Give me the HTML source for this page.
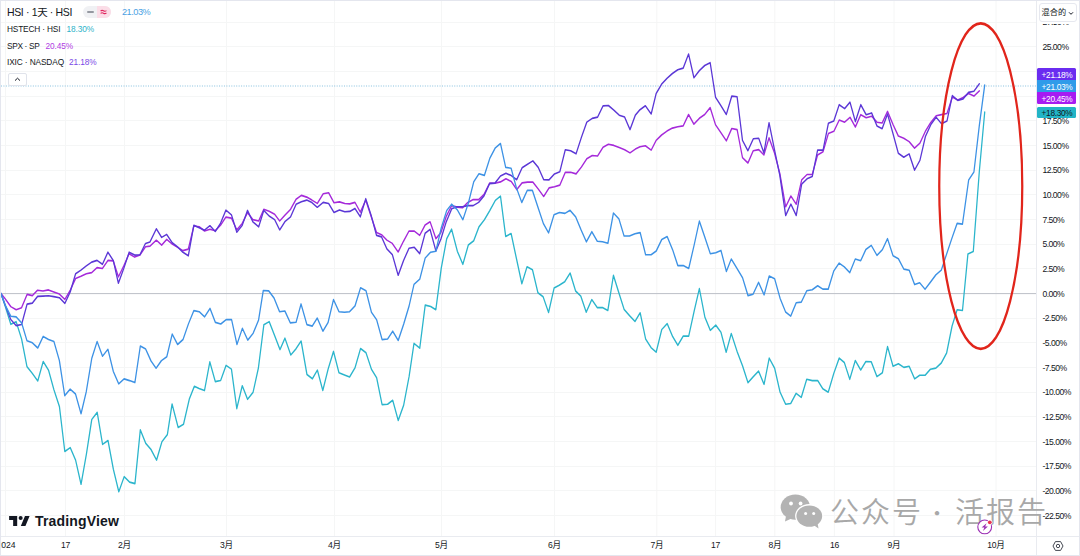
<!DOCTYPE html>
<html lang="zh"><head><meta charset="utf-8"><title>HSI chart</title>
<style>
html,body{margin:0;padding:0;background:#fff;}
body{width:1080px;height:556px;position:relative;overflow:hidden;font-family:"Liberation Sans","Noto Sans CJK SC",sans-serif;color:#131722;}
.chart{position:absolute;left:0;top:0;}
.frame{position:absolute;left:0;top:0;width:1078px;height:554px;border:1px solid #e4e6ee;pointer-events:none;}
.tl{position:absolute;top:540px;transform:translateX(-50%);font-size:8.6px;letter-spacing:-.3px;line-height:11px;white-space:nowrap;color:#131722;}
.yl{position:absolute;left:1042.4px;transform:translateY(-50%);font-size:8.6px;line-height:10px;white-space:nowrap;color:#131722;letter-spacing:-.5px;}
.pl{position:absolute;left:1037px;width:39px;height:12px;box-sizing:border-box;padding-top:.9px;padding-left:1px;border-radius:1.5px;color:#fff;font-size:8.3px;line-height:12px;text-align:center;letter-spacing:-.3px;font-weight:normal;}
.lg{position:absolute;left:7px;white-space:nowrap;color:#131722;letter-spacing:-.12px;}
.lg b{font-weight:normal;margin-left:5px;}
.wm{position:absolute;color:#a8a8a8;font-family:"Liberation Sans","Noto Sans CJK SC",sans-serif;font-weight:350;font-size:29px;letter-spacing:2px;line-height:31px;white-space:nowrap;}
</style></head><body>
<svg class="chart" width="1080" height="556" viewBox="0 0 1080 556">
<g stroke="#f5f6f6" stroke-width="1" shape-rendering="auto"><line x1="1" x2="1036" y1="515.5" y2="515.5"/><line x1="1" x2="1036" y1="490.5" y2="490.5"/><line x1="1" x2="1036" y1="466.5" y2="466.5"/><line x1="1" x2="1036" y1="441.5" y2="441.5"/><line x1="1" x2="1036" y1="416.5" y2="416.5"/><line x1="1" x2="1036" y1="392.5" y2="392.5"/><line x1="1" x2="1036" y1="367.5" y2="367.5"/><line x1="1" x2="1036" y1="342.5" y2="342.5"/><line x1="1" x2="1036" y1="318.5" y2="318.5"/><line x1="1" x2="1036" y1="268.5" y2="268.5"/><line x1="1" x2="1036" y1="244.5" y2="244.5"/><line x1="1" x2="1036" y1="219.5" y2="219.5"/><line x1="1" x2="1036" y1="194.5" y2="194.5"/><line x1="1" x2="1036" y1="170.5" y2="170.5"/><line x1="1" x2="1036" y1="145.5" y2="145.5"/><line x1="1" x2="1036" y1="120.5" y2="120.5"/><line x1="1" x2="1036" y1="96.5" y2="96.5"/><line x1="1" x2="1036" y1="71.5" y2="71.5"/><line x1="1" x2="1036" y1="46.5" y2="46.5"/><line x1="1" x2="1036" y1="22.5" y2="22.5"/><line y1="1" y2="536" x1="5.5" x2="5.5"/><line y1="1" y2="536" x1="65.5" x2="65.5"/><line y1="1" y2="536" x1="124.5" x2="124.5"/><line y1="1" y2="536" x1="226.5" x2="226.5"/><line y1="1" y2="536" x1="334.5" x2="334.5"/><line y1="1" y2="536" x1="441.5" x2="441.5"/><line y1="1" y2="536" x1="554.5" x2="554.5"/><line y1="1" y2="536" x1="656.8" x2="656.8"/><line y1="1" y2="536" x1="715.6" x2="715.6"/><line y1="1" y2="536" x1="774.8" x2="774.8"/><line y1="1" y2="536" x1="834.4" x2="834.4"/><line y1="1" y2="536" x1="894.0" x2="894.0"/><line y1="1" y2="536" x1="996.0" x2="996.0"/></g>
<line x1="1" x2="1036" y1="293.6" y2="293.6" stroke="#bcbfc7" stroke-width="1"/>
<line x1="1" x2="1036" y1="86" y2="86" stroke="#62aed6" stroke-width="1" stroke-dasharray="1 1.45" opacity=".75"/>
<g transform="scale(0.8 1)">
<path d="M1.3 293.6 L6.7 306.6 L13.5 324.3 L20.2 321.7 L27.0 339.0 L33.7 366.6 L40.5 373.5 L47.2 381.0 L54.0 361.6 L60.7 370.3 L67.4 389.7 L74.3 406.6 L81.0 451.5 L87.8 447.6 L94.5 460.1 L101.3 484.3 L108.0 454.1 L114.7 419.5 L121.5 412.4 L128.2 444.4 L135.0 440.5 L141.7 469.2 L148.5 491.8 L155.2 476.7 L162.0 482.1 L168.7 483.6 L175.4 429.9 L182.2 443.3 L188.9 449.7 L195.7 460.1 L202.4 441.8 L209.2 434.6 L215.1 404.0 L222.7 427.5 L229.4 424.3 L236.6 399.2 L242.9 386.3 L248.8 388.5 L255.6 390.6 L262.3 361.9 L269.1 381.6 L275.8 380.5 L282.6 365.4 L289.3 369.1 L296.0 408.6 L302.8 385.7 L309.5 399.3 L316.3 392.4 L323.0 368.0 L329.8 324.8 L336.5 321.6 L343.3 335.6 L350.0 349.6 L356.2 338.2 L363.5 355.0 L370.2 348.6 L376.4 341.0 L383.7 374.5 L390.5 378.8 L396.7 370.1 L403.5 390.4 L410.1 369.2 L416.9 351.4 L423.7 372.7 L430.6 375.0 L437.0 377.0 L443.8 367.8 L450.7 348.5 L457.5 352.8 L464.3 369.2 L470.8 377.8 L477.6 404.6 L484.5 404.3 L490.9 400.3 L497.8 420.4 L504.6 405.1 L511.4 376.4 L517.5 343.3 L524.7 348.2 L531.5 305.1 L538.4 306.5 L544.8 309.7 L551.6 268.0 L558.4 238.7 L564.5 229.2 L571.7 251.3 L578.6 264.3 L585.4 245.0 L592.2 240.7 L598.7 226.9 L605.5 219.7 L612.3 210.5 L619.2 200.4 L625.6 196.1 L632.1 236.4 L638.9 233.5 L645.4 258.0 L652.3 283.8 L658.8 266.8 L665.6 269.7 L672.4 292.7 L678.9 296.7 L685.7 312.5 L692.6 288.1 L699.0 285.2 L705.9 281.8 L712.7 273.1 L719.5 291.0 L726.0 296.1 L732.8 312.2 L739.7 299.6 L746.5 307.6 L753.0 307.6 L759.8 310.5 L766.8 275.4 L773.6 292.9 L780.1 309.3 L786.9 315.7 L793.7 321.4 L800.2 312.8 L807.0 338.9 L813.8 347.6 L820.2 352.2 L827.2 329.5 L834.0 323.7 L840.8 336.6 L847.3 345.3 L854.1 336.1 L860.9 336.1 L867.8 310.8 L874.2 288.6 L881.1 317.1 L887.9 330.3 L894.7 325.1 L901.2 332.3 L907.7 352.3 L914.1 333.5 L921.3 351.3 L928.2 365.9 L935.0 382.7 L941.4 376.9 L948.2 371.1 L955.1 384.4 L961.5 358.1 L968.3 368.3 L975.1 392.2 L982.0 404.2 L988.4 403.5 L995.2 393.3 L1001.6 397.4 L1008.4 379.3 L1015.3 380.6 L1022.1 380.6 L1028.5 388.8 L1035.3 392.2 L1042.2 373.5 L1049.0 358.1 L1055.4 362.5 L1062.2 379.3 L1069.1 360.5 L1075.9 370.0 L1082.3 361.5 L1089.1 361.8 L1096.2 376.6 L1103.0 372.8 L1109.4 346.6 L1116.3 366.3 L1123.0 363.8 L1129.8 367.4 L1136.5 366.3 L1143.3 378.9 L1149.6 375.3 L1156.3 375.3 L1163.1 369.2 L1169.8 368.1 L1176.6 363.0 L1183.3 353.0 L1190.1 326.0 L1196.4 309.8 L1203.1 310.5 L1209.9 254.0 L1216.6 251.5 L1224.1 172.0 L1230.9 112.0" fill="none" stroke="#2bb5cc" stroke-width="1.6" stroke-linejoin="round" stroke-linecap="round"/>
<path d="M1.3 293.6 L6.7 299.0 L13.5 306.6 L20.2 309.8 L27.0 307.7 L33.9 294.4 L40.4 295.6 L47.0 290.2 L53.7 291.0 L60.6 289.9 L67.3 291.9 L74.2 294.1 L81.1 299.4 L87.8 290.2 L94.5 278.5 L101.2 276.3 L107.9 273.8 L114.6 272.6 L121.3 267.6 L128.0 268.5 L134.9 260.4 L141.6 260.9 L148.0 276.8 L154.7 265.9 L161.4 253.7 L168.3 257.1 L175.0 255.1 L181.9 246.7 L187.5 246.1 L195.4 240.2 L202.1 245.2 L208.4 239.4 L215.3 244.1 L222.0 247.4 L228.7 250.6 L235.4 249.1 L242.3 226.0 L249.0 226.8 L255.7 231.0 L262.4 229.3 L269.1 230.7 L275.7 225.2 L282.4 217.1 L289.3 218.1 L296.0 229.9 L302.7 223.5 L309.4 212.6 L316.1 219.6 L323.4 221.0 L329.7 209.3 L336.4 211.3 L343.3 214.3 L349.6 221.0 L356.5 214.8 L363.2 209.3 L370.1 199.2 L376.7 195.4 L383.4 197.1 L389.9 200.1 L396.6 203.4 L404.0 193.7 L410.8 192.7 L417.5 202.8 L424.3 201.9 L431.0 203.5 L437.2 203.9 L443.7 202.4 L450.4 212.1 L457.2 200.2 L463.9 216.4 L470.7 232.6 L476.9 234.7 L483.6 240.1 L490.4 243.4 L497.7 252.0 L504.4 241.2 L511.2 231.1 L517.9 231.1 L524.6 235.4 L531.4 225.0 L537.6 221.8 L544.9 238.6 L551.1 232.6 L557.8 216.4 L564.6 205.6 L571.3 207.1 L578.1 207.8 L584.8 202.4 L591.5 199.6 L598.3 199.6 L605.0 194.4 L612.0 183.1 L618.7 183.3 L625.6 181.9 L632.4 178.8 L639.1 181.4 L645.9 189.6 L652.6 182.9 L659.4 182.1 L666.1 182.1 L672.8 189.0 L679.6 196.5 L686.3 187.9 L693.1 186.8 L699.8 185.1 L706.6 172.4 L713.3 172.2 L720.1 173.9 L726.8 167.0 L733.5 158.8 L740.3 155.5 L747.0 156.0 L753.8 147.3 L760.5 144.3 L767.3 145.4 L774.0 147.6 L780.8 149.7 L787.5 152.9 L794.2 149.1 L800.0 146.8 L806.7 145.8 L814.0 150.1 L820.2 140.4 L827.0 135.0 L833.7 131.1 L840.5 128.1 L847.2 126.8 L854.0 125.9 L860.7 114.5 L867.4 124.2 L874.2 118.3 L880.9 114.5 L887.7 107.6 L894.4 124.8 L901.2 132.8 L907.9 140.8 L914.7 128.5 L921.4 129.6 L928.1 157.6 L934.9 163.0 L941.6 150.7 L948.4 149.6 L954.9 155.0 L961.3 137.8 L968.1 152.9 L974.8 173.4 L982.1 206.8 L988.6 196.0 L995.3 204.2 L1002.1 179.9 L1008.8 174.5 L1015.3 174.5 L1022.0 155.0 L1028.8 151.8 L1035.5 133.5 L1042.3 131.3 L1049.0 120.1 L1055.8 122.2 L1062.5 117.3 L1069.2 127.0 L1076.0 114.7 L1082.7 117.7 L1089.5 116.2 L1096.2 122.2 L1102.7 123.0 L1109.4 111.4 L1116.2 124.3 L1122.9 136.0 L1129.7 138.2 L1136.4 141.6 L1143.2 148.1 L1149.9 143.1 L1156.7 131.3 L1163.4 122.6 L1170.2 115.7 L1176.9 114.6 L1183.7 113.5 L1190.4 97.1 L1197.2 99.9 L1203.9 97.4 L1210.7 93.5 L1217.4 96.1 L1224.2 90.9" fill="none" stroke="#a52ada" stroke-width="1.6" stroke-linejoin="round" stroke-linecap="round"/>
<path d="M1.3 293.6 L6.7 305.5 L13.5 319.5 L20.2 325.6 L27.0 324.5 L33.9 304.1 L40.4 303.1 L47.0 296.4 L53.7 296.1 L60.6 295.7 L67.3 296.6 L74.2 297.7 L81.1 303.3 L87.8 291.9 L94.5 273.8 L101.2 270.1 L107.9 265.9 L114.6 262.1 L121.3 260.4 L128.0 264.3 L134.9 252.2 L141.6 260.4 L148.0 283.2 L154.7 268.5 L161.4 252.2 L168.3 255.1 L175.0 254.7 L181.9 243.4 L187.5 241.9 L195.4 228.8 L202.1 237.4 L208.4 234.4 L215.3 242.7 L222.0 246.9 L228.7 252.3 L235.4 255.8 L242.3 225.2 L249.0 227.7 L255.7 230.2 L262.4 225.7 L269.1 231.5 L275.7 223.2 L282.4 210.1 L289.3 214.8 L296.0 232.2 L302.7 225.5 L309.4 210.4 L316.1 221.8 L323.4 226.8 L329.7 210.4 L336.4 216.0 L343.3 219.6 L349.6 229.9 L356.5 221.3 L363.2 216.8 L370.1 204.3 L376.7 201.7 L383.4 200.1 L389.9 202.6 L396.6 207.3 L404.0 202.4 L410.8 203.5 L417.5 212.5 L424.3 209.9 L431.0 211.7 L437.2 211.4 L443.7 208.4 L450.4 216.8 L457.2 198.7 L463.9 215.3 L470.7 235.4 L476.9 236.9 L483.6 248.8 L490.4 254.6 L497.7 275.3 L504.4 260.6 L511.2 248.3 L517.9 247.3 L524.6 253.7 L531.4 233.2 L537.6 229.4 L544.9 250.9 L551.1 239.1 L557.8 221.8 L564.6 208.8 L571.3 206.7 L578.1 206.7 L584.8 205.6 L591.5 205.6 L598.3 202.4 L605.0 195.9 L612.0 183.6 L618.7 183.1 L625.6 176.0 L632.4 173.2 L639.1 175.6 L645.9 179.7 L652.6 167.8 L659.4 164.2 L666.1 160.9 L672.8 167.4 L679.6 179.7 L686.3 179.9 L693.1 173.9 L699.8 171.7 L706.6 149.7 L713.3 150.8 L720.1 153.8 L726.8 137.2 L733.5 122.1 L740.3 118.4 L747.0 117.1 L753.8 105.9 L760.5 105.5 L767.3 110.2 L774.0 115.2 L780.8 117.1 L787.5 129.6 L794.2 115.2 L800.0 109.7 L806.7 105.8 L814.0 114.0 L820.2 93.5 L827.0 84.2 L833.7 78.4 L840.5 73.5 L847.2 69.8 L854.0 68.1 L860.7 54.0 L867.4 77.8 L874.2 70.6 L880.9 65.5 L887.7 62.7 L894.4 97.2 L901.2 105.8 L907.9 114.5 L914.7 96.1 L921.4 96.8 L928.1 140.4 L934.9 150.7 L941.6 138.8 L948.4 138.2 L954.9 152.9 L961.3 122.7 L968.1 149.6 L974.8 175.5 L982.1 215.5 L988.6 204.2 L995.3 215.5 L1002.1 184.2 L1008.8 178.8 L1015.3 176.6 L1022.0 150.1 L1028.8 150.1 L1035.5 123.3 L1042.3 120.9 L1049.0 104.7 L1055.8 108.6 L1062.5 102.2 L1069.2 121.6 L1076.0 104.7 L1082.7 114.7 L1089.5 112.9 L1096.2 125.9 L1102.7 128.7 L1109.4 114.0 L1116.2 133.4 L1122.9 153.3 L1129.7 157.2 L1136.4 153.9 L1143.2 170.1 L1149.9 160.4 L1156.7 136.7 L1163.4 124.8 L1170.2 117.2 L1176.9 123.7 L1183.7 121.1 L1190.4 95.6 L1197.2 100.4 L1203.9 98.9 L1210.7 92.4 L1217.4 91.3 L1224.2 83.8" fill="none" stroke="#5b37d6" stroke-width="1.6" stroke-linejoin="round" stroke-linecap="round"/>
<path d="M1.3 293.6 L6.7 305.5 L13.5 316.3 L20.2 316.9 L27.0 322.8 L33.7 340.7 L40.5 342.8 L47.2 348.0 L54.0 336.4 L60.7 339.4 L67.4 341.5 L74.2 360.5 L80.9 395.7 L87.7 389.2 L94.4 394.0 L101.3 413.7 L107.9 391.4 L114.7 358.4 L121.4 341.5 L128.1 356.2 L134.9 349.3 L141.6 371.3 L148.4 383.8 L155.1 378.9 L161.9 380.6 L168.6 382.6 L175.4 346.1 L182.1 349.1 L188.8 361.0 L195.1 368.2 L201.8 360.6 L208.5 356.8 L215.3 334.1 L222.0 344.5 L228.8 339.5 L235.5 324.0 L242.3 310.6 L249.0 311.7 L255.8 316.8 L262.5 308.4 L269.2 322.4 L276.0 324.0 L282.7 319.6 L289.5 319.6 L296.2 344.5 L303.0 328.3 L309.7 340.1 L316.5 333.2 L323.2 320.1 L329.1 290.5 L335.9 290.9 L342.6 298.1 L349.4 311.7 L356.1 311.0 L362.9 322.9 L370.1 322.2 L376.3 303.9 L383.6 324.6 L390.4 326.1 L396.6 318.1 L403.6 331.2 L410.1 322.6 L416.9 299.6 L423.7 311.7 L430.6 312.3 L437.0 311.7 L443.8 305.9 L450.7 287.8 L457.5 290.7 L464.3 312.3 L470.8 319.7 L477.6 339.6 L484.5 339.0 L490.9 331.2 L497.8 340.4 L504.6 324.1 L511.4 305.9 L517.5 284.4 L524.7 279.2 L531.5 258.0 L538.3 252.2 L544.8 251.3 L551.6 227.8 L558.4 210.5 L564.5 204.2 L571.7 209.9 L578.6 219.7 L585.4 203.3 L592.2 181.8 L598.7 173.7 L605.5 175.4 L612.3 158.2 L619.2 147.8 L625.6 143.5 L632.1 167.4 L638.9 168.2 L645.4 187.5 L652.2 202.5 L659.1 190.4 L665.5 190.4 L672.4 207.1 L679.2 223.5 L685.7 232.9 L692.5 214.8 L699.3 212.5 L706.2 213.4 L712.6 210.3 L719.6 216.9 L726.2 229.7 L733.0 241.8 L739.8 231.7 L746.6 241.2 L753.1 241.8 L759.9 243.2 L766.8 213.0 L773.6 218.8 L780.1 236.0 L786.9 236.0 L793.7 233.7 L800.2 232.6 L807.0 254.7 L813.9 254.7 L820.3 251.0 L827.2 239.5 L834.0 236.6 L840.8 249.8 L847.3 265.6 L854.1 265.6 L860.9 268.5 L867.8 244.6 L874.2 221.1 L881.1 237.4 L887.9 253.8 L894.7 252.7 L901.2 250.4 L908.0 271.4 L914.1 259.0 L921.3 268.6 L928.2 277.8 L935.0 295.6 L941.4 294.2 L948.2 282.3 L955.1 294.9 L961.5 276.1 L968.3 278.8 L975.1 298.3 L982.0 312.0 L988.4 316.1 L995.2 302.8 L1001.6 302.1 L1008.4 290.8 L1015.3 289.8 L1022.1 285.7 L1028.5 289.1 L1035.3 289.1 L1042.2 271.0 L1049.0 263.1 L1055.4 266.9 L1062.2 272.7 L1069.1 259.0 L1075.9 260.7 L1082.3 249.5 L1089.1 245.4 L1096.2 255.4 L1103.0 249.6 L1109.4 238.7 L1116.3 255.8 L1123.0 258.7 L1129.8 269.1 L1136.5 270.2 L1143.3 284.6 L1149.6 282.8 L1156.3 289.3 L1163.1 282.1 L1169.8 274.9 L1176.6 270.2 L1183.3 254.0 L1190.1 237.8 L1196.4 223.4 L1203.1 224.1 L1210.8 180.1 L1217.4 172.0 L1224.1 125.9 L1230.9 85.0" fill="none" stroke="#3d92e5" stroke-width="1.6" stroke-linejoin="round" stroke-linecap="round"/>
<ellipse cx="1225.94" cy="186.1" rx="51.88" ry="162.8" fill="none" stroke="#e1251b" stroke-width="2.8"/>
</g>
<line x1="1036.5" x2="1036.5" y1="0" y2="556" stroke="#e9ebf0"/>
<line x1="0" x2="1080" y1="536.5" y2="536.5" stroke="#e9ebf0"/>
</svg>
<div class="axis-t"><div style="position:absolute;left:1px;top:540px;width:24px;height:12px;overflow:hidden"><span class="tl" style="left:-4.4px;top:0;transform:none;letter-spacing:-.05px">2024</span></div><span class="tl" style="left:65.5px">17</span><span class="tl" style="left:124.5px">2月</span><span class="tl" style="left:226.5px">3月</span><span class="tl" style="left:334.5px">4月</span><span class="tl" style="left:441.5px">5月</span><span class="tl" style="left:554.5px">6月</span><span class="tl" style="left:656.8px">7月</span><span class="tl" style="left:715.6px">17</span><span class="tl" style="left:774.8px">8月</span><span class="tl" style="left:834.4px">16</span><span class="tl" style="left:894.0px">9月</span><span class="tl" style="left:996.0px">10月</span></div>
<div class="axis-y"><span class="yl" style="top:515.6px">-22.50%</span><span class="yl" style="top:491.0px">-20.00%</span><span class="yl" style="top:466.3px">-17.50%</span><span class="yl" style="top:441.6px">-15.00%</span><span class="yl" style="top:417.0px">-12.50%</span><span class="yl" style="top:392.3px">-10.00%</span><span class="yl" style="top:367.6px">-7.50%</span><span class="yl" style="top:342.9px">-5.00%</span><span class="yl" style="top:318.3px">-2.50%</span><span class="yl" style="top:293.6px">0.00%</span><span class="yl" style="top:268.9px">2.50%</span><span class="yl" style="top:244.3px">5.00%</span><span class="yl" style="top:219.6px">7.50%</span><span class="yl" style="top:194.9px">10.00%</span><span class="yl" style="top:170.2px">12.50%</span><span class="yl" style="top:145.6px">15.00%</span><span class="yl" style="top:120.9px">17.50%</span><span class="yl" style="top:96.2px">20.00%</span><span class="yl" style="top:71.6px">22.50%</span><span class="yl" style="top:46.9px">25.00%</span><span class="yl" style="top:22.2px">27.50%</span></div>
<!-- watermark -->
<svg style="position:absolute;left:778px;top:492px" width="48" height="38" viewBox="778 492 48 38">
 <g fill="#b3b3b3">
  <ellipse cx="795.4" cy="507.2" rx="14.7" ry="12.6"/>
  <path d="M786 516 L785 521.5 L791.5 518.5Z"/>
 </g>
 <ellipse cx="809.3" cy="516.1" rx="14.2" ry="12" fill="#fff"/>
 <g fill="#b3b3b3">
  <ellipse cx="809.3" cy="516.1" rx="12.9" ry="10.7"/>
  <path d="M813.5 525 L818.5 528.5 L817.5 523Z"/>
 </g>
 <g fill="#fff"><circle cx="791" cy="503.5" r="1.9"/><circle cx="800.6" cy="503.5" r="1.9"/><circle cx="805.6" cy="513.6" r="1.5"/><circle cx="813.7" cy="513.6" r="1.5"/></g>
</svg>
<div class="wm" style="left:830px;top:497.5px;">公众号</div>
<div class="wm" style="left:927px;top:496.5px;width:20px;text-align:center;letter-spacing:0;font-family:'Noto Sans CJK SC',sans-serif;font-weight:700;font-size:17px">·</div>
<div class="wm" style="left:955px;top:497.5px;">活报告</div>
<!-- price labels -->
<div class="pl" style="top:68px;background:#6a2cf0;border-radius:1.5px 1.5px 0 0">+21.18%</div>
<div class="pl" style="top:80px;background:#2f9be9;border-radius:0">+21.03%</div>
<div class="pl" style="top:92px;background:#a61bf2;border-radius:0 0 1.5px 1.5px">+20.45%</div>
<div class="pl" style="top:107px;height:11px;line-height:11px;background:#22b4c6;color:#131722">+18.30%</div>
<!-- dropdown -->
<div style="position:absolute;left:1038px;top:1px;width:40px;height:23px;background:#fff"></div>
<div style="position:absolute;left:1039px;top:3px;width:36px;height:16.5px;border:1px solid #e6e8ef;border-radius:3px;background:#fff;"></div>
<div style="position:absolute;left:1041.5px;top:6.8px;font-size:8.2px;line-height:12px;color:#131722;white-space:nowrap">混合的</div>
<svg style="position:absolute;left:1068.2px;top:10.6px" width="6" height="5" viewBox="0 0 6 5"><path d="M1 1.3 L3 3.3 L5 1.3" fill="none" stroke="#131722" stroke-width="1"/></svg>
<!-- legend -->
<div class="lg" style="top:5.4px;font-size:10.5px;line-height:14px;letter-spacing:-.36px;">HSI · 1天 · HSI</div>
<div style="position:absolute;left:83px;top:6px;width:27.5px;height:12px;border-radius:6px;overflow:hidden;background:#f0f1f4">
  <div style="position:absolute;left:13.5px;top:0;width:14px;height:12px;background:#fbdde7"></div>
  <div style="position:absolute;left:3.9px;top:4.7px;width:7px;height:2.3px;border-radius:1.2px;background:#9598a1"></div>
  <svg style="position:absolute;left:17px;top:3px" width="7" height="6" viewBox="0 0 7 6"><path d="M.6 2 Q2 .8 3.5 1.8 T6.4 1.6 M.6 4.4 Q2 3.2 3.5 4.2 T6.4 4" fill="none" stroke="#e0245e" stroke-width="1.1"/></svg>
</div>
<div class="lg" style="left:122px;top:5.4px;font-size:9.2px;line-height:14px;letter-spacing:-.5px;color:#4a9fe3">21.03%</div>
<div class="lg" style="top:23px;font-size:8.3px;line-height:12px;letter-spacing:-.17px">HSTECH · HSI<b style="color:#2db3c9;margin-left:6.3px;letter-spacing:-.12px">18.30%</b></div>
<div class="lg" style="top:39.5px;font-size:8.3px;line-height:12px;letter-spacing:-.33px">SPX · SP<b style="color:#b03be3;margin-left:6.2px;letter-spacing:-.12px">20.45%</b></div>
<div class="lg" style="top:56px;font-size:8.3px;line-height:12px;">IXIC · NASDAQ<b style="color:#7a48e6">21.18%</b></div>
<div style="position:absolute;left:7.5px;top:72.5px;width:19px;height:13.5px;border:1px solid #e0e3eb;border-radius:2px;background:#fff;box-sizing:border-box"></div>
<svg style="position:absolute;left:13.5px;top:76.5px" width="7" height="5" viewBox="0 0 7 5"><path d="M1 3.6 L3.5 1.2 L6 3.6" fill="none" stroke="#131722" stroke-width="1"/></svg>
<!-- TradingView logo -->
<svg style="position:absolute;left:9px;top:515.6px" width="21" height="10.4" viewBox="0 0 36 18"><path fill="#131722" d="M14 18H7V7H0V0h14v18zM28 18h-8l7.5-18h8L28 18z"/><circle cx="20" cy="3.5" r="3.5" fill="#131722"/></svg>
<div style="position:absolute;left:35px;top:511.5px;font-size:14px;line-height:18px;font-weight:bold;letter-spacing:.17px;color:#131722;white-space:nowrap">TradingView</div>
<!-- lightning -->
<svg style="position:absolute;left:976px;top:518px" width="18" height="18" viewBox="976 518 18 18">
 <circle cx="984.7" cy="526.9" r="6.9" fill="#fff" stroke="#9b2fb4" stroke-width="1.1"/>
 <path d="M986.6 523.2 L981.6 527.6 L984.4 527.6 L982.9 530.9 L987.9 526.4 L985.1 526.4Z" fill="#9b2fb4"/>
 <circle cx="989.8" cy="522.3" r="2.6" fill="#fff"/>
 <circle cx="989.8" cy="522.3" r="1.9" fill="#ea3550"/>
</svg>
<!-- settings -->
<svg style="position:absolute;left:1052.2px;top:540px" width="12" height="12" viewBox="-6 -6 12 12"><path d="M-5 0 L-2.6 -4.4 L2.6 -4.4 L5 0 L2.6 4.4 L-2.6 4.4Z" fill="none" stroke="#3a3e49" stroke-width=".95" stroke-linejoin="round"/><circle r="1.7" fill="none" stroke="#3a3e49" stroke-width=".95"/></svg>
<div class="frame"></div>
</body></html>
